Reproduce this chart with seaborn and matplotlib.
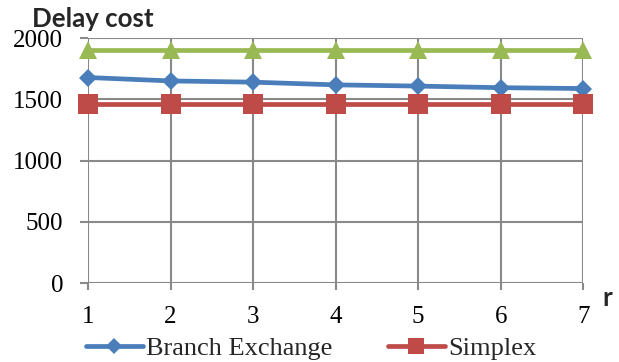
import matplotlib
matplotlib.use("Agg")
import matplotlib.pyplot as plt
from matplotlib.lines import Line2D
import seaborn as sns
import pandas as pd

r_values = [1, 2, 3, 4, 5, 6, 7]
branch_exchange = [1678, 1650, 1640, 1618, 1608, 1595, 1588]
simplex = [1465, 1465, 1465, 1465, 1465, 1465, 1465]
upper_series = [1900, 1900, 1900, 1900, 1900, 1900, 1900]
y_ticks = [0, 500, 1000, 1500, 2000]

sns.set_theme(style="white")
plt.rcParams["font.family"] = ["Liberation Serif", "DejaVu Serif"]

fig = plt.figure(figsize=(6.19, 3.62), dpi=100)
ax = fig.add_axes([0.1422, 0.2174, 0.8001, 0.6776])

grid_color = "#898989"
ax.set_axisbelow(True)
ax.grid(True, color=grid_color, linewidth=1.5)
for s in ax.spines.values():
    s.set_visible(False)

blue = "#4A7EBB"
red = "#BE4B48"
green = "#98B954"
lw = 3.4

df = pd.DataFrame({"r": r_values, "be": branch_exchange,
                   "sx": simplex, "up": upper_series})

sns.lineplot(data=df, x="r", y="up", ax=ax, color=green, linewidth=lw,
             marker="^", markersize=13.5, markeredgewidth=0, clip_on=False)
sns.lineplot(data=df, x="r", y="be", ax=ax, color=blue, linewidth=lw,
             marker="D", markersize=9.5, markeredgewidth=0, clip_on=False)
sns.lineplot(data=df, x="r", y="sx", ax=ax, color=red, linewidth=lw,
             marker="s", markersize=13.7, markeredgewidth=0, clip_on=False)

ax.set_xlim(1, 7)
ax.set_ylim(0, 2000)
ax.set_xticks(r_values)
ax.set_yticks(y_ticks)
ax.set_xlabel("")
ax.set_ylabel("")
ax.tick_params(axis="both", which="major", width=1.5,
               color=grid_color, labelsize=18, labelcolor="black")
ax.tick_params(axis="x", direction="out", bottom=True, length=5.2, pad=11)
ax.tick_params(axis="y", direction="out", left=True, length=5.8, pad=12)

fig.text(0.052, 0.947, "Delay cost", fontfamily=["Lato", "DejaVu Sans"],
         fontweight="bold", fontsize=18.6, ha="left", va="center")
fig.text(0.981, 0.177, "r", fontfamily=["Lato", "DejaVu Sans"],
         fontweight="bold", fontsize=18.6, ha="center", va="center")

handles = [
    Line2D([], [], color=blue, linewidth=lw, marker="D", markersize=8,
           markeredgewidth=0),
    Line2D([], [], color=red, linewidth=lw, marker="s", markersize=12,
           markeredgewidth=0),
]
fig.legend(handles, ["Branch Exchange", "Simplex"], loc="center",
           bbox_to_anchor=(0.5024, 0.038), ncol=2, frameon=False,
           fontsize=19, handlelength=2.16, handletextpad=0.12,
           columnspacing=2.1, borderaxespad=0)

fig.savefig("out.png", dpi=100)
